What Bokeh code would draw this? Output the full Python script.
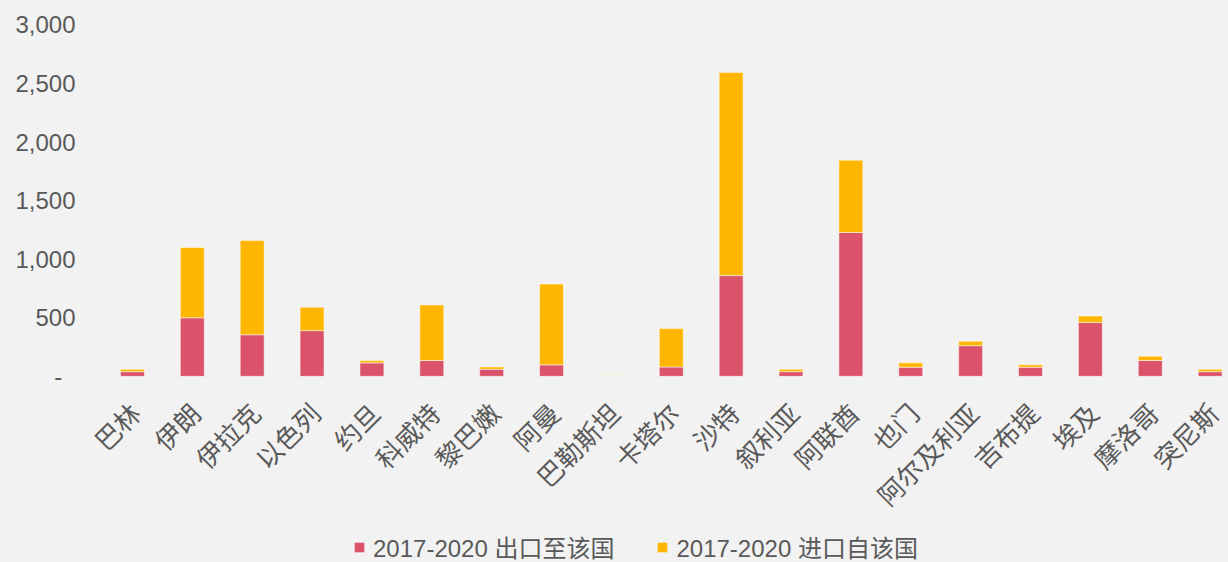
from bokeh.plotting import figure
from bokeh.layouts import column
from bokeh.models import (ColumnDataSource, Range1d, FixedTicker, LinearAxis,
                          NumeralTickFormatter)
from bokeh.embed import file_html
from bokeh.resources import INLINE

# ---------------- data ----------------
countries = ["巴林", "伊朗", "伊拉克", "以色列", "约旦", "科威特", "黎巴嫩", "阿曼",
             "巴勒斯坦", "卡塔尔", "沙特", "叙利亚", "阿联酋", "也门", "阿尔及利亚",
             "吉布提", "埃及", "摩洛哥", "突尼斯"]
exports_to = [40, 500, 355, 390, 115, 135, 60, 98, 3, 80, 860, 40, 1228, 78, 262, 78, 460, 135, 40]
imports_from = [20, 600, 805, 200, 20, 475, 20, 690, 3, 328, 1735, 20, 617, 37, 37, 20, 55, 37, 20]
series_names = ["2017-2020 出口至该国", "2017-2020 进口自该国"]
y_ticks = [0, 500, 1000, 1500, 2000, 2500, 3000]

# ---------------- styles ----------------
BG = "#f2f2f2"
RED = "#DB536A"
YEL = "#FFB600"
TXT = "#595959"
FONT = "Liberation Sans, Noto Sans CJK SC"
LABEL_SHIFT = 0.04   # label anchor offset (category units), style only

xs = list(range(len(countries)))
src = ColumnDataSource(dict(x=xs, exp=exports_to, imp=imports_from))

p = figure(width=1228, height=532, output_backend="svg", toolbar_location=None,
           x_range=Range1d(-0.5, 18.307), y_range=Range1d(-10, 3055),
           x_axis_type=None, y_axis_type=None,
           min_border_left=102, min_border_right=0, min_border_top=18,
           min_border_bottom=155)
p.background_fill_color = BG
p.border_fill_color = BG
p.outline_line_color = None

rs = p.vbar_stack(["exp", "imp"], x="x", width=0.4, source=src,
                  color=[RED, YEL], line_color="white", line_alpha=0.5,
                  line_width=1)

# y axis
yaxis = LinearAxis(ticker=FixedTicker(ticks=y_ticks),
                   formatter=NumeralTickFormatter(format="0,0"))
yaxis.major_label_overrides = {0: "-\u00a0\u00a0"}
yaxis.axis_line_color = None
yaxis.major_tick_line_color = None
yaxis.minor_tick_line_color = None
yaxis.major_tick_out = 0
yaxis.major_tick_in = 0
yaxis.major_label_text_font = FONT
yaxis.major_label_text_font_size = "24px"
yaxis.major_label_text_color = TXT
yaxis.major_label_standoff = 27
p.add_layout(yaxis, "left")

# x axis
label_pos = [i + LABEL_SHIFT for i in xs]
xaxis = LinearAxis(ticker=FixedTicker(ticks=label_pos))
xaxis.major_label_overrides = {t: c for t, c in zip(label_pos, countries)}
xaxis.major_label_orientation = 0.785398
xaxis.axis_line_color = None
xaxis.major_tick_line_color = None
xaxis.minor_tick_line_color = None
xaxis.major_tick_out = 0
xaxis.major_tick_in = 0
xaxis.major_label_text_font = "Noto Sans CJK SC"
xaxis.major_label_text_font_size = "26px"
xaxis.major_label_text_color = TXT
xaxis.major_label_standoff = 30
p.add_layout(xaxis, "below")

p.ygrid.ticker = FixedTicker(ticks=y_ticks)
p.ygrid.grid_line_color = "#d9d9d9"
p.ygrid.grid_line_width = 2
p.xgrid.visible = False

# ---------------- legend strip (its bars fall outside its ranges) ----------------
lg = figure(width=1228, height=30, output_backend="svg", toolbar_location=None,
            x_range=Range1d(100, 118.807), y_range=Range1d(5000, 6000),
            x_axis_type=None, y_axis_type=None,
            min_border_left=0, min_border_right=0, min_border_top=0,
            min_border_bottom=0)
lg.background_fill_color = BG
lg.border_fill_color = BG
lg.outline_line_color = None
lg.grid.visible = False
lg.vbar_stack(["exp", "imp"], x="x", width=0.4, source=src,
              color=[RED, YEL], line_color=None, legend_label=series_names)
leg = lg.legend[0]
leg.location = (251, -2)
leg.orientation = "horizontal"
leg.background_fill_alpha = 0
leg.border_line_color = None
leg.padding = 0
leg.margin = 0
leg.spacing = 42
leg.glyph_width = 12
leg.glyph_height = 12
leg.label_standoff = 8
leg.label_text_font = FONT
leg.label_text_font_size = "24px"
leg.label_text_color = TXT

layout = column(p, lg, spacing=0)

html = file_html(layout, INLINE)
html = html.replace("<head>", "<head><style>body{background:#f2f2f2}</style>", 1)
open("out.html", "w").write(html)
